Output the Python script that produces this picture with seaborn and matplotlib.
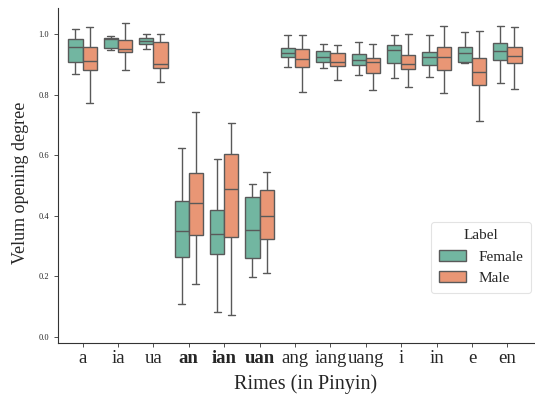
import matplotlib
matplotlib.use("Agg")
import matplotlib.pyplot as plt
import seaborn as sns
import pandas as pd

rimes = ["a", "ia", "ua", "an", "ian", "uan", "ang", "iang", "uang", "i", "in", "e", "en"]
bold_rimes = ["an", "ian", "uan"]

# five-number summaries: [min, Q1, median, Q3, max]
female = [
    [0.869, 0.908, 0.958, 0.982, 1.015],
    [0.947, 0.955, 0.983, 0.986, 0.992],
    [0.950, 0.967, 0.976, 0.988, 1.000],
    [0.108, 0.263, 0.349, 0.448, 0.625],
    [0.083, 0.272, 0.338, 0.420, 0.586],
    [0.198, 0.260, 0.354, 0.463, 0.504],
    [0.892, 0.925, 0.936, 0.954, 0.996],
    [0.887, 0.907, 0.925, 0.944, 0.966],
    [0.866, 0.899, 0.914, 0.933, 0.973],
    [0.854, 0.903, 0.946, 0.962, 0.995],
    [0.857, 0.897, 0.924, 0.941, 0.995],
    [0.905, 0.909, 0.937, 0.958, 1.005],
    [0.838, 0.913, 0.945, 0.969, 1.025],
]
male = [
    [0.772, 0.880, 0.912, 0.958, 1.022],
    [0.880, 0.939, 0.950, 0.980, 1.035],
    [0.843, 0.888, 0.902, 0.973, 1.000],
    [0.175, 0.336, 0.441, 0.540, 0.744],
    [0.073, 0.330, 0.489, 0.603, 0.707],
    [0.211, 0.322, 0.398, 0.485, 0.543],
    [0.810, 0.890, 0.917, 0.951, 0.996],
    [0.849, 0.894, 0.907, 0.936, 0.962],
    [0.814, 0.872, 0.908, 0.921, 0.968],
    [0.824, 0.884, 0.900, 0.932, 0.999],
    [0.805, 0.880, 0.925, 0.956, 1.027],
    [0.712, 0.831, 0.876, 0.922, 1.009],
    [0.818, 0.903, 0.927, 0.956, 1.023],
]
labels = ["Female", "Male"]

rows = []
for r, f, m in zip(rimes, female, male):
    for v in f:
        rows.append((r, v, "Female"))
    for v in m:
        rows.append((r, v, "Male"))
df = pd.DataFrame(rows, columns=["Rime", "Value", "Label"])

sns.set_style("white")
plt.rcParams["font.family"] = ["Liberation Serif", "DejaVu Serif"]

fig = plt.figure(figsize=(5.35, 3.96), dpi=100)
ax = fig.add_axes([0.108, 0.134, 0.89, 0.846])

sns.boxplot(data=df, x="Rime", y="Value", hue="Label", order=rimes,
            hue_order=labels, palette="Set2", whis=(0, 100), width=0.8,
            linewidth=1.0, ax=ax)

sns.despine(ax=ax)
for s in ["left", "bottom"]:
    ax.spines[s].set_color("#333333")
    ax.spines[s].set_linewidth(0.8)

ax.set_ylim(-0.02, 1.086)
ax.set_xlim(-0.7, 12.75)
ax.set_yticks([0.0, 0.2, 0.4, 0.6, 0.8, 1.0])
ax.set_yticklabels(["0.0", "0.2", "0.4", "0.6", "0.8", "1.0"], fontsize=6)
ax.tick_params(axis="both", which="both", direction="out", length=3, width=0.6,
               color="#333333", left=True, bottom=True)
ax.tick_params(axis="x", labelsize=13.5, pad=2)
for t in ax.get_xticklabels():
    if t.get_text() in bold_rimes:
        t.set_fontweight("bold")

ax.set_xlabel("Rimes (in Pinyin)", fontsize=14.5)
ax.xaxis.set_label_coords(0.52, -0.095)
ax.set_ylabel("Velum opening degree", fontsize=13)
ax.yaxis.set_label_coords(-0.06, 0.478)

leg = ax.legend(title="Label", loc="upper left", bbox_to_anchor=(0.784, 0.362),
                borderaxespad=0, fontsize=11, title_fontsize=11, frameon=True,
                handlelength=1.8, borderpad=0.5)
leg.get_frame().set_edgecolor("#dddddd")
leg.get_frame().set_linewidth(0.8)

fig.savefig("out.png", dpi=100)
